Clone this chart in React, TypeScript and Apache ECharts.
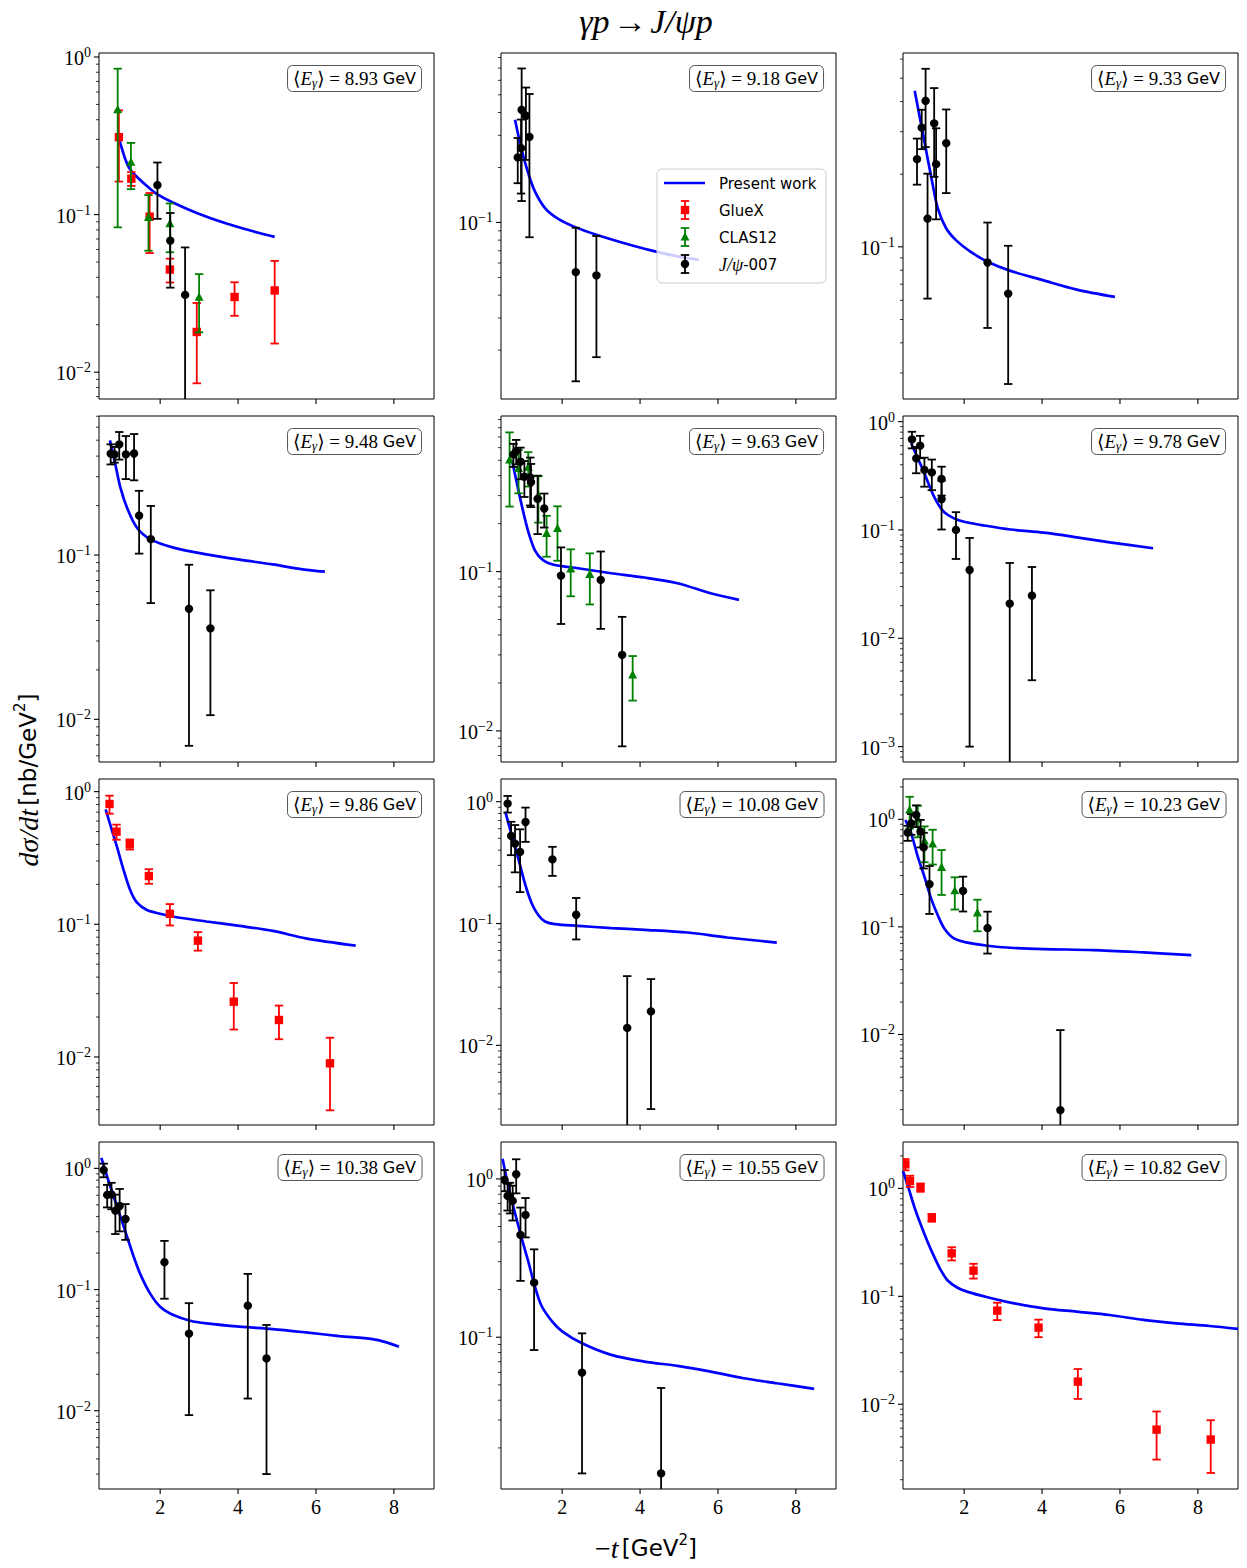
import React, { useEffect, useRef } from 'react';
import * as echarts from 'echarts';

const W = 1247;
const H = 1568;
const X_MIN = 0.43;
const X_MAX = 9.03;
const X_TICKS = [2, 4, 6, 8];
const COL_LEFT = [99, 501, 903];
const ROW_TOP = [53, 416, 779, 1142];
const PANEL_W = 335;
const PANEL_H = [346, 346, 346, 347];

const ENERGIES = ['8.93', '9.18', '9.33', '9.48', '9.63', '9.78', '9.86', '10.08', '10.23', '10.38', '10.55', '10.82'];
const Y_RANGES = [
  [0.00676, 1.06], [0.0108, 0.847], [0.0234, 0.636],
  [0.0055, 0.702], [0.00638, 0.948], [0.000721, 1.128],
  [0.00307, 1.245], [0.00222, 1.535], [0.00144, 2.37],
  [0.00226, 1.65], [0.011, 1.71], [0.00164, 2.69],
];

// theory curves [-t, dsigma/dt]
const THEORY_893 = [[0.95, 0.299], [1.11, 0.223], [1.23, 0.193], [1.40, 0.174], [1.66, 0.152], [1.92, 0.135], [2.34, 0.119], [2.94, 0.1025], [3.70, 0.0877], [4.38, 0.0784], [4.94, 0.0722]];
const THEORY_918 = [[0.79, 0.365], [0.96, 0.25], [1.13, 0.186], [1.30, 0.148], [1.56, 0.12], [1.90, 0.1047], [2.35, 0.094], [2.88, 0.0856], [3.51, 0.078], [4.28, 0.0703], [4.96, 0.0652], [5.51, 0.0625]];
const THEORY_933 = [[0.73, 0.444], [0.98, 0.273], [1.17, 0.189], [1.32, 0.145], [1.53, 0.12], [1.79, 0.1066], [2.17, 0.0953], [2.60, 0.0867], [3.19, 0.0795], [4.04, 0.0726], [4.89, 0.0665], [5.87, 0.062]];
const THEORY_948 = [[0.71, 0.499], [0.85, 0.356], [0.98, 0.257], [1.15, 0.194], [1.40, 0.147], [1.74, 0.125], [2.34, 0.111], [3.19, 0.101], [4.04, 0.0937], [4.89, 0.0877], [5.66, 0.0818], [6.23, 0.0792]];
const THEORY_963 = [[0.71, 0.503], [0.83, 0.367], [0.96, 0.262], [1.13, 0.178], [1.30, 0.136], [1.51, 0.118], [1.81, 0.11], [2.41, 0.105], [3.26, 0.0977], [4.11, 0.0918], [4.96, 0.0845], [5.81, 0.0731], [6.54, 0.0664]];
const THEORY_978 = [[0.64, 0.631], [0.81, 0.459], [0.98, 0.334], [1.15, 0.234], [1.32, 0.176], [1.49, 0.146], [1.74, 0.128], [2.0, 0.119], [2.51, 0.11], [3.19, 0.101], [4.04, 0.0944], [4.89, 0.0856], [5.74, 0.0769], [6.85, 0.0678]];
const THEORY_986 = [[0.60, 0.736], [0.72, 0.561], [0.89, 0.385], [1.06, 0.257], [1.23, 0.181], [1.40, 0.146], [1.66, 0.128], [2.0, 0.12], [2.34, 0.114], [3.19, 0.105], [4.04, 0.0972], [4.89, 0.0891], [5.74, 0.0784], [7.02, 0.069]];
const THEORY_1008 = [[0.54, 0.828], [0.71, 0.524], [0.88, 0.336], [1.05, 0.21], [1.22, 0.146], [1.39, 0.117], [1.56, 0.104], [1.81, 0.0988], [2.41, 0.0957], [3.26, 0.0917], [4.11, 0.0888], [5.22, 0.0844], [6.24, 0.0768], [7.51, 0.0698]];
const THEORY_1023 = [[0.49, 0.986], [0.64, 0.741], [0.81, 0.45], [0.98, 0.293], [1.15, 0.184], [1.32, 0.129], [1.49, 0.0968], [1.74, 0.0782], [2.09, 0.0713], [2.6, 0.0668], [3.19, 0.064], [4.04, 0.0622], [5.32, 0.0609], [6.6, 0.0579], [7.83, 0.0547]];
const THEORY_1038 = [[0.49, 1.22], [0.64, 0.853], [0.81, 0.583], [0.98, 0.399], [1.15, 0.273], [1.32, 0.187], [1.49, 0.134], [1.74, 0.093], [2.0, 0.0722], [2.34, 0.0616], [2.77, 0.0553], [3.19, 0.0526], [4.04, 0.0494], [4.89, 0.0472], [5.74, 0.0443], [6.6, 0.0413], [7.45, 0.039], [7.79, 0.0368], [8.13, 0.0337]];
const THEORY_1055 = [[0.47, 1.34], [0.62, 0.895], [0.79, 0.607], [0.96, 0.422], [1.13, 0.301], [1.30, 0.209], [1.47, 0.158], [1.73, 0.127], [2.0, 0.109], [2.51, 0.0916], [3.26, 0.0774], [4.11, 0.0702], [4.96, 0.0659], [5.81, 0.0607], [6.66, 0.0551], [7.51, 0.0512], [8.47, 0.0472]];
const THEORY_1082 = [[0.43, 1.45], [0.55, 1.07], [0.72, 0.676], [0.89, 0.457], [1.06, 0.321], [1.23, 0.233], [1.40, 0.175], [1.57, 0.141], [1.83, 0.12], [2.09, 0.11], [2.60, 0.098], [3.19, 0.0874], [4.04, 0.0774], [4.89, 0.0721], [5.74, 0.0671], [6.6, 0.0604], [7.45, 0.0562], [8.3, 0.0531], [9.03, 0.0499]];

// data points [-t, dsigma/dt, error]
const GLUEX_893 = [[0.94, 0.31, 0.148], [1.26, 0.169, 0.017], [1.73, 0.097, 0.04], [2.25, 0.0448, 0.0077], [2.94, 0.018, 0.0095], [3.91, 0.030, 0.0072], [4.94, 0.033, 0.0178]];
const CLAS12_893 = [[0.91, 0.463, 0.38], [1.25, 0.215, 0.07], [1.70, 0.096, 0.037], [2.25, 0.0877, 0.03], [3.0, 0.0299, 0.012]];
const JPSI_893 = [[1.93, 0.154, 0.06], [2.26, 0.0684, 0.034], [2.64, 0.0309, 0.031]];
const JPSI_918 = [[0.86, 0.227, 0.063], [0.945, 0.255, 0.111], [0.96, 0.414, 0.283], [1.07, 0.384, 0.164], [1.16, 0.294, 0.211], [2.35, 0.0535, 0.04], [2.88, 0.0513, 0.033]];
const JPSI_933 = [[0.79, 0.231, 0.05], [0.91, 0.312, 0.058], [1.01, 0.403, 0.144], [1.06, 0.131, 0.07], [1.23, 0.325, 0.13], [1.28, 0.22, 0.09], [1.54, 0.269, 0.102], [2.60, 0.0861, 0.04], [3.13, 0.064, 0.037]];
const JPSI_948 = [[0.73, 0.414, 0.058], [0.83, 0.41, 0.045], [0.95, 0.471, 0.09], [1.12, 0.41, 0.12], [1.33, 0.415, 0.13], [1.46, 0.174, 0.072], [1.76, 0.125, 0.074], [2.74, 0.0471, 0.0402], [3.29, 0.0358, 0.0252]];
const CLAS12_963 = [[0.65, 0.502, 0.246], [0.88, 0.445, 0.135], [1.13, 0.452, 0.11], [1.39, 0.30, 0.097], [1.60, 0.174, 0.05], [1.88, 0.187, 0.07], [2.22, 0.104, 0.034], [2.71, 0.0962, 0.034], [3.81, 0.0225, 0.007]];
const JPSI_963 = [[0.75, 0.544, 0.09], [0.82, 0.571, 0.1], [0.93, 0.49, 0.11], [1.03, 0.394, 0.1], [1.18, 0.39, 0.13], [1.20, 0.364, 0.11], [1.37, 0.286, 0.114], [1.54, 0.249, 0.06], [1.97, 0.0944, 0.0475], [2.99, 0.0887, 0.045], [3.54, 0.030, 0.022]];
const JPSI_978 = [[0.66, 0.687, 0.12], [0.77, 0.459, 0.125], [0.87, 0.60, 0.14], [0.98, 0.358, 0.107], [1.17, 0.34, 0.107], [1.42, 0.296, 0.088], [1.42, 0.193, 0.092], [1.79, 0.1, 0.046], [2.14, 0.0427, 0.0417], [3.17, 0.0209, 0.0287], [3.74, 0.0248, 0.0207]];
const GLUEX_986 = [[0.70, 0.807, 0.125], [0.88, 0.499, 0.065], [1.22, 0.401, 0.035], [1.71, 0.231, 0.029], [2.25, 0.12, 0.022], [2.97, 0.0753, 0.012], [3.89, 0.0261, 0.01], [5.05, 0.019, 0.0054], [6.36, 0.00896, 0.005]];
const JPSI_1008 = [[0.60, 0.964, 0.15], [0.69, 0.524, 0.16], [0.79, 0.453, 0.19], [0.92, 0.387, 0.206], [1.06, 0.681, 0.213], [1.75, 0.336, 0.09], [2.36, 0.118, 0.044], [3.67, 0.0139, 0.0231], [4.28, 0.019, 0.016]];
const CLAS12_1023 = [[0.60, 1.22, 0.4], [0.81, 1.01, 0.33], [0.98, 0.629, 0.23], [1.19, 0.59, 0.21], [1.42, 0.358, 0.16], [1.76, 0.217, 0.072], [2.34, 0.135, 0.044]];
const JPSI_1023 = [[0.55, 0.751, 0.12], [0.64, 0.918, 0.2], [0.77, 1.097, 0.25], [0.88, 0.768, 0.22], [0.96, 0.549, 0.2], [1.11, 0.25, 0.118], [1.97, 0.216, 0.077], [2.60, 0.0975, 0.041], [4.47, 0.00198, 0.009]];
const JPSI_1038 = [[0.55, 0.969, 0.125], [0.64, 0.603, 0.127], [0.75, 0.61, 0.15], [0.85, 0.447, 0.16], [0.96, 0.489, 0.187], [1.11, 0.382, 0.125], [2.11, 0.168, 0.084], [2.74, 0.0432, 0.034], [4.25, 0.0736, 0.061], [4.73, 0.027, 0.024]];
const JPSI_1055 = [[0.52, 0.986, 0.15], [0.60, 0.781, 0.15], [0.66, 0.775, 0.17], [0.73, 0.726, 0.18], [0.82, 1.07, 0.26], [0.93, 0.443, 0.216], [1.06, 0.592, 0.165], [1.28, 0.221, 0.138], [2.51, 0.0598, 0.046], [4.54, 0.0138, 0.034]];
const GLUEX_1082 = [[0.49, 1.67, 0.2], [0.61, 1.17, 0.14], [0.88, 1.02, 0.09], [1.17, 0.535, 0.044], [1.68, 0.25, 0.035], [2.24, 0.173, 0.027], [2.85, 0.0737, 0.0135], [3.91, 0.0513, 0.0095], [4.92, 0.0162, 0.005], [6.94, 0.00582, 0.00275], [8.33, 0.00471, 0.0024]];

const THEORY = [THEORY_893, THEORY_918, THEORY_933, THEORY_948, THEORY_963, THEORY_978, THEORY_986, THEORY_1008, THEORY_1023, THEORY_1038, THEORY_1055, THEORY_1082];
const GLUEX = [GLUEX_893, [], [], [], [], [], GLUEX_986, [], [], [], [], GLUEX_1082];
const CLAS12 = [CLAS12_893, [], [], [], CLAS12_963, [], [], [], CLAS12_1023, [], [], []];
const JPSI = [JPSI_893, JPSI_918, JPSI_933, JPSI_948, JPSI_963, JPSI_978, [], JPSI_1008, JPSI_1023, JPSI_1038, JPSI_1055, []];

const BLUE = '#0000ff';
const RED = '#ff0000';
const GREEN = '#008000';
const BLACK = '#000000';
const SERIF = "'Liberation Serif', 'DejaVu Serif', serif";
const SANS = "'DejaVu Sans', sans-serif";

function markerShape(shape: string, x: number, y: number, color: string) {
  const s = 4.2;
  if (shape === 'square') {
    return { type: 'rect', shape: { x: x - s, y: y - s, width: 2 * s, height: 2 * s }, style: { fill: color } };
  }
  if (shape === 'triangle') {
    return { type: 'polygon', shape: { points: [[x, y - s - 0.6], [x - s - 0.3, y + s - 0.6], [x + s + 0.3, y + s - 0.6]] }, style: { fill: color } };
  }
  return { type: 'circle', shape: { cx: x, cy: y, r: s }, style: { fill: color } };
}

function errorBarIcon(x: number, y: number, half: number, color: string, shape: string) {
  const st = { stroke: color, lineWidth: 1.8 };
  return [
    { type: 'line', shape: { x1: x, y1: y - half, x2: x, y2: y + half }, style: st, z: 101 },
    { type: 'line', shape: { x1: x - 4.2, y1: y - half, x2: x + 4.2, y2: y - half }, style: st, z: 101 },
    { type: 'line', shape: { x1: x - 4.2, y1: y + half, x2: x + 4.2, y2: y + half }, style: st, z: 101 },
    { ...markerShape(shape, x, y, color), z: 102 },
  ];
}

function errSeries(name: string, data: number[][], color: string, shape: string, gi: number, z: number) {
  return {
    type: 'custom',
    name,
    xAxisIndex: gi,
    yAxisIndex: gi,
    clip: true,
    silent: true,
    z,
    data,
    renderItem: (params: any, api: any) => {
      const x = api.value(0);
      const y = api.value(1);
      const e = api.value(2);
      const yMin = Y_RANGES[gi][0];
      const loRaw = y - e;
      const hasLo = loRaw > 0;
      const lo = hasLo ? loRaw : yMin / 100;
      const p = api.coord([x, y]);
      const pt = api.coord([x, y + e]);
      const pb = api.coord([x, lo]);
      const st = { stroke: color, lineWidth: 1.8 };
      const cap = 4.2;
      const children: any[] = [
        { type: 'line', shape: { x1: p[0], y1: pt[1], x2: p[0], y2: pb[1] }, style: st },
        { type: 'line', shape: { x1: p[0] - cap, y1: pt[1], x2: p[0] + cap, y2: pt[1] }, style: st },
      ];
      if (hasLo) {
        children.push({ type: 'line', shape: { x1: p[0] - cap, y1: pb[1], x2: p[0] + cap, y2: pb[1] }, style: st });
      }
      children.push(markerShape(shape, p[0], p[1], color));
      return { type: 'group', children };
    },
  };
}

function yTickSeries(gi: number) {
  const [yMin, yMax] = Y_RANGES[gi];
  const ticks: number[][] = [];
  for (let n = -4; n <= 1; n++) {
    for (let k = 1; k <= 9; k++) {
      const v = k * Math.pow(10, n);
      if (v >= yMin && v <= yMax) ticks.push([X_MIN, v, k === 1 ? 1 : 0, n]);
    }
  }
  return {
    type: 'custom',
    xAxisIndex: gi,
    yAxisIndex: gi,
    clip: false,
    silent: true,
    z: 10,
    data: ticks,
    renderItem: (params: any, api: any) => {
      const v = api.value(1);
      const major = api.value(2) === 1;
      const n = api.value(3);
      const py = api.coord([X_MIN, v])[1];
      const left = params.coordSys.x;
      const len = major ? 5 : 3;
      const children: any[] = [
        { type: 'line', shape: { x1: left - len, y1: py, x2: left, y2: py }, style: { stroke: '#000', lineWidth: major ? 1.1 : 0.8 } },
      ];
      if (major) {
        const exp = n < 0 ? '\u2212' + String(-n) : String(n);
        children.push({
          type: 'text',
          x: left - 8,
          y: py + 1,
          style: {
            text: `{b|10}{e|${exp}}`,
            rich: {
              b: { fontFamily: SERIF, fontSize: 20, lineHeight: 25, fill: '#000', color: '#000' },
              e: { fontFamily: SERIF, fontSize: 14, lineHeight: 14, verticalAlign: 'top', fill: '#000', color: '#000' },
            },
            align: 'right',
            verticalAlign: 'middle',
            textAlign: 'right',
            textVerticalAlign: 'middle',
          },
        });
      }
      return { type: 'group', children };
    },
  };
}

function xTickSeries(gi: number, showLabels: boolean) {
  const yMin = Y_RANGES[gi][0];
  return {
    type: 'custom',
    xAxisIndex: gi,
    yAxisIndex: gi,
    clip: false,
    silent: true,
    z: 10,
    data: X_TICKS.map((t) => [t, yMin]),
    renderItem: (params: any, api: any) => {
      const x = api.value(0);
      const px = api.coord([x, yMin])[0];
      const bottom = params.coordSys.y + params.coordSys.height;
      const children: any[] = [
        { type: 'line', shape: { x1: px, y1: bottom, x2: px, y2: bottom + 5 }, style: { stroke: '#000', lineWidth: 1.1 } },
      ];
      if (showLabels) {
        children.push({
          type: 'text',
          x: px,
          y: bottom + 8,
          style: {
            text: String(x),
            fontFamily: SERIF,
            fontSize: 20,
            fill: '#000',
            align: 'center',
            verticalAlign: 'top',
            textAlign: 'center',
            textVerticalAlign: 'top',
          },
        });
      }
      return { type: 'group', children };
    },
  };
}

function buildOption() {
  const grids: any[] = [];
  const xAxes: any[] = [];
  const yAxes: any[] = [];
  const series: any[] = [];
  const titles: any[] = [];
  const hidden = { axisLine: { show: false }, axisTick: { show: false }, axisLabel: { show: false }, splitLine: { show: false } };

  for (let gi = 0; gi < 12; gi++) {
    const r = Math.floor(gi / 3);
    const c = gi % 3;
    grids.push({
      left: COL_LEFT[c], top: ROW_TOP[r], width: PANEL_W, height: PANEL_H[r],
      show: true, borderColor: '#000', borderWidth: 1, backgroundColor: 'transparent', containLabel: false,
    });
    xAxes.push({ type: 'value', gridIndex: gi, min: X_MIN, max: X_MAX, ...hidden });
    yAxes.push({ type: 'log', logBase: 10, gridIndex: gi, min: Y_RANGES[gi][0], max: Y_RANGES[gi][1], ...hidden });

    series.push({
      type: 'line', name: 'Present work', xAxisIndex: gi, yAxisIndex: gi,
      data: THEORY[gi], showSymbol: false, smooth: 0.3, silent: true,
      lineStyle: { color: BLUE, width: 2.7 }, itemStyle: { color: BLUE }, z: 2,
    });
    if (GLUEX[gi].length) series.push(errSeries('GlueX', GLUEX[gi], RED, 'square', gi, 3));
    if (CLAS12[gi].length) series.push(errSeries('CLAS12', CLAS12[gi], GREEN, 'triangle', gi, 4));
    if (JPSI[gi].length) series.push(errSeries('J/ψ-007', JPSI[gi], BLACK, 'circle', gi, 5));
    series.push(yTickSeries(gi));
    series.push(xTickSeries(gi, r === 3));

    titles.push({
      text: `{a|\u27E8}{e|E}{g|γ}{a|\u27E9 = ${ENERGIES[gi]} }{s|GeV}`,
      right: W - (COL_LEFT[c] + PANEL_W) + 12,
      top: ROW_TOP[r] + 11,
      padding: [3, 6, 3, 6],
      borderColor: '#555',
      borderWidth: 1,
      borderRadius: 5,
      backgroundColor: '#ffffff',
      textStyle: {
        fontWeight: 'normal',
        rich: {
          a: { fontFamily: SERIF, fontSize: 19, lineHeight: 22, color: '#000', fontWeight: 'normal' },
          e: { fontFamily: SERIF, fontStyle: 'italic', fontSize: 19, lineHeight: 22, color: '#000', fontWeight: 'normal' },
          g: { fontFamily: SERIF, fontStyle: 'italic', fontSize: 13, lineHeight: 11, verticalAlign: 'bottom', color: '#000', fontWeight: 'normal' },
          s: { fontFamily: SANS, fontSize: 16, lineHeight: 22, color: '#000', fontWeight: 'normal' },
        },
      },
    });
  }

  const lx = 657;
  const ly = 169;
  const legend: any[] = [
    { type: 'rect', shape: { x: lx, y: ly, width: 169, height: 114, r: 5 }, style: { fill: 'rgba(255,255,255,0.8)', stroke: '#cccccc', lineWidth: 1 }, z: 100 },
    { type: 'line', shape: { x1: 664, y1: 183, x2: 705, y2: 183 }, style: { stroke: BLUE, lineWidth: 2.7 }, z: 101 },
    ...errorBarIcon(685, 210, 9, RED, 'square'),
    ...errorBarIcon(685, 237, 9, GREEN, 'triangle'),
    ...errorBarIcon(685, 264, 9, BLACK, 'circle'),
  ];
  const legendTexts = [
    { t: 'Present work', y: 184 },
    { t: 'GlueX', y: 211 },
    { t: 'CLAS12', y: 238 },
  ];
  legendTexts.forEach((l) => {
    legend.push({
      type: 'text', x: 719, y: l.y, z: 102,
      style: { text: l.t, fontFamily: SANS, fontSize: 15, fill: '#000', align: 'left', verticalAlign: 'middle', textAlign: 'left', textVerticalAlign: 'middle' },
    });
  });
  legend.push({
    type: 'text', x: 719, y: 265, z: 102,
    style: {
      text: '{m|J/ψ}{n|-007}',
      rich: {
        m: { fontFamily: SERIF, fontStyle: 'italic', fontSize: 18, fill: '#000', color: '#000' },
        n: { fontFamily: SANS, fontSize: 15, fill: '#000', color: '#000' },
      },
      align: 'left', verticalAlign: 'middle', textAlign: 'left', textVerticalAlign: 'middle',
    },
  });

  const labels: any[] = [
    {
      type: 'text', x: 646, y: 21, z: 100,
      style: {
        text: '{i|γp} {n|\u2192} {i|J/ψp}',
        rich: {
          i: { fontFamily: SERIF, fontStyle: 'italic', fontSize: 34, lineHeight: 38, fill: '#000', color: '#000' },
          n: { fontFamily: SERIF, fontSize: 34, lineHeight: 38, fill: '#000', color: '#000' },
        },
        align: 'center', verticalAlign: 'middle', textAlign: 'center', textVerticalAlign: 'middle',
      },
    },
    {
      type: 'text', x: 646, y: 1548, z: 100,
      style: {
        text: '{n|\u2212}{i|t} {s|[GeV}{p|2}{s|]}',
        rich: {
          i: { fontFamily: SERIF, fontStyle: 'italic', fontSize: 28, lineHeight: 32, fill: '#000', color: '#000' },
          n: { fontFamily: SERIF, fontSize: 28, lineHeight: 32, fill: '#000', color: '#000' },
          s: { fontFamily: SANS, fontSize: 23, lineHeight: 32, fill: '#000', color: '#000' },
          p: { fontFamily: SANS, fontSize: 15, lineHeight: 15, verticalAlign: 'top', fill: '#000', color: '#000' },
        },
        align: 'center', verticalAlign: 'middle', textAlign: 'center', textVerticalAlign: 'middle',
      },
    },
    {
      type: 'text', x: 28, y: 780, rotation: Math.PI / 2, z: 100,
      style: {
        text: '{i|dσ/dt} {s|[nb/GeV}{p|2}{s|]}',
        rich: {
          i: { fontFamily: SERIF, fontStyle: 'italic', fontSize: 28, lineHeight: 32, fill: '#000', color: '#000' },
          s: { fontFamily: SANS, fontSize: 23, lineHeight: 32, fill: '#000', color: '#000' },
          p: { fontFamily: SANS, fontSize: 15, lineHeight: 15, verticalAlign: 'top', fill: '#000', color: '#000' },
        },
        align: 'center', verticalAlign: 'middle', textAlign: 'center', textVerticalAlign: 'middle',
      },
    },
  ];

  return {
    animation: false,
    backgroundColor: '#ffffff',
    title: titles,
    grid: grids,
    xAxis: xAxes,
    yAxis: yAxes,
    series,
    graphic: [...legend, ...labels],
  };
}

export default function App() {
  const ref = useRef<HTMLDivElement>(null);
  useEffect(() => {
    if (!ref.current) return;
    const chart = echarts.init(ref.current, null, { renderer: 'svg', width: W, height: H });
    chart.setOption(buildOption() as any);
    return () => chart.dispose();
  }, []);
  return <div ref={ref} style={{ position: 'absolute', left: 0, top: 0, width: W, height: H, background: '#fff' }} />;
}
